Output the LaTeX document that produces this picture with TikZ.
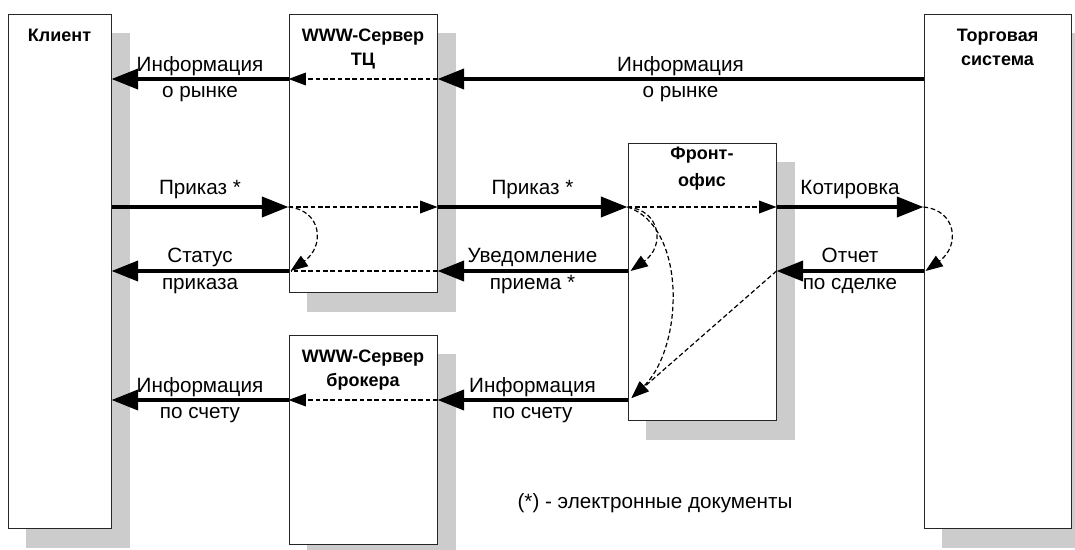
\documentclass[tikz,border=0pt]{standalone}
\usepackage{fontspec}
\setmainfont{Liberation Sans}
\usetikzlibrary{arrows.meta,fit,backgrounds}

\definecolor{shadowgray}{RGB}{204,204,204}

\tikzset{every picture/.style={line width=0.75pt}}
\tikzset{
  blk/.style={draw=black!85, fill=white, inner sep=0pt},
  ttl/.style={font=\fontsize{13.5}{18}\selectfont\bfseries, align=center, anchor=north, inner sep=0pt},
  lbl/.style={font=\fontsize{15.5}{20}\selectfont, align=center, inner sep=0pt},
  flow/.style={line width=3pt, -{Triangle[length=20pt,width=15pt]}},
  pass/.style={line width=0.9pt, dash pattern=on 3.5pt off 2pt, -{Triangle[length=13pt,width=9.5pt]}},
  passline/.style={line width=0.9pt, dash pattern=on 3.5pt off 2pt},
}

\begin{document}
\begin{tikzpicture}[x=0.75pt,y=0.75pt,yscale=-1,xscale=1]
	\useasboundingbox (0,0) rectangle (1075,550);

	% levels of the flows
	\coordinate (yMarket) at (0,79);
	\coordinate (yOrder) at (0,207);
	\coordinate (yStatus) at (0,271);
	\coordinate (yAcct) at (0,400);

	%Shape: Rectangle [client]
	\node[blk, fit={(8,14) (111,528)}] (client) {};
	%Shape: Rectangle [www server TC]
	\node[blk, fit={(289,14) (437,292)}] (tc) {};
	%Shape: Rectangle [www server broker]
	\node[blk, fit={(289,335) (437,544)}] (broker) {};
	%Shape: Rectangle [front office]
	\node[blk, fit={(628,143) (776,420)}] (front) {};
	%Shape: Rectangle [trading system]
	\node[blk, fit={(924,14) (1071,528)}] (torg) {};

	%Shadows
	\begin{scope}[on background layer]
	\foreach \b in {client,tc,broker,front,torg}
		\fill[shadowgray] ([shift={(18,19)}]\b.north west) rectangle ([shift={(18,19)}]\b.south east);
	\end{scope}

	% Text Node
	\node[ttl] (clientT) at ([shift={(0,15)}]client.north) {Клиент};
	% Text Node
	\node[ttl] (tcT) at ([shift={(0,15)}]tc.north) {WWW-Сервер\\ТЦ};
	% Text Node
	\node[ttl] (brokerT) at ([shift={(0,15)}]broker.north) {WWW-Сервер\\брокера};
	% Text Node
	\node[ttl, font=\fontsize{13.5}{20.5}\selectfont\bfseries] (frontT) at ([shift={(0,4)}]front.north) {Фронт-\\офис};
	% Text Node
	\node[ttl] (torgT) at ([shift={(0,15)}]torg.north) {Торговая\\система};

	%Straight Lines [market info]
	\draw[flow] (torg.west |- yMarket) -- (tc.east |- yMarket) node[lbl, midway] (lMarketB) {Информация\\о рынке};
	\draw[pass] (tc.east |- yMarket) -- (tc.west |- yMarket);
	\draw[flow] (tc.west |- yMarket) -- (client.east |- yMarket) node[lbl, midway] (lMarketA) {Информация\\о рынке};

	%Straight Lines [order]
	\draw[flow] (client.east |- yOrder) -- (tc.west |- yOrder) node[lbl, midway, above=5pt] (lOrderA) {Приказ *};
	\draw[pass] (tc.west |- yOrder) -- (tc.east |- yOrder);
	\draw[flow] (tc.east |- yOrder) -- (front.west |- yOrder) node[lbl, midway, above=5pt] (lOrderB) {Приказ *};
	\draw[pass] (front.west |- yOrder) -- (front.east |- yOrder);
	\draw[flow] (front.east |- yOrder) -- (torg.west |- yOrder) node[lbl, midway, above=5pt] (lQuote) {Котировка};

	%Straight Lines [status, notice, deal report]
	\draw[flow] (torg.west |- yStatus) -- (front.east |- yStatus) node[lbl, midway] (lDeal) {Отчет\\по сделке};
	\draw[flow] (front.west |- yStatus) -- (tc.east |- yStatus) node[lbl, midway] (lNotice) {Уведомление\\приема *};
	\draw[passline] (tc.east |- yStatus) -- ([shift={(2,0)}]tc.west |- yStatus);
	\draw[flow] (tc.west |- yStatus) -- (client.east |- yStatus) node[lbl, midway] (lStatus) {Статус\\приказа};

	%Straight Lines [account info]
	\draw[flow] (front.west |- yAcct) -- (broker.east |- yAcct) node[lbl, midway] (lAcctB) {Информация\\по счету};
	\draw[pass] (broker.east |- yAcct) -- (broker.west |- yAcct);
	\draw[flow] (broker.west |- yAcct) -- (client.east |- yAcct) node[lbl, midway] (lAcctA) {Информация\\по счету};

	%Curves [inside the boxes]
	\draw[pass] (tc.west |- yOrder) .. controls +(33,3) and +(35,-25) .. ([shift={(2,0)}]tc.west |- yStatus);
	\draw[pass] (front.west |- yOrder) .. controls +(33,3) and +(35,-25) .. ([shift={(3,0)}]front.west |- yStatus);
	\draw[pass] (front.west |- yOrder) .. controls +(60,20) and +(52,-50) .. ([shift={(4,-2)}]front.west |- yAcct);
	\draw[pass] (front.east |- yStatus) -- ([shift={(4,-2)}]front.west |- yAcct);
	\draw[pass] (torg.west |- yOrder) .. controls +(33,3) and +(35,-25) .. ([shift={(2,0)}]torg.west |- yStatus);

	% Text Node
	\node[lbl] (note) at (655,503) {(*) - электронные документы};

\end{tikzpicture}
\end{document}
